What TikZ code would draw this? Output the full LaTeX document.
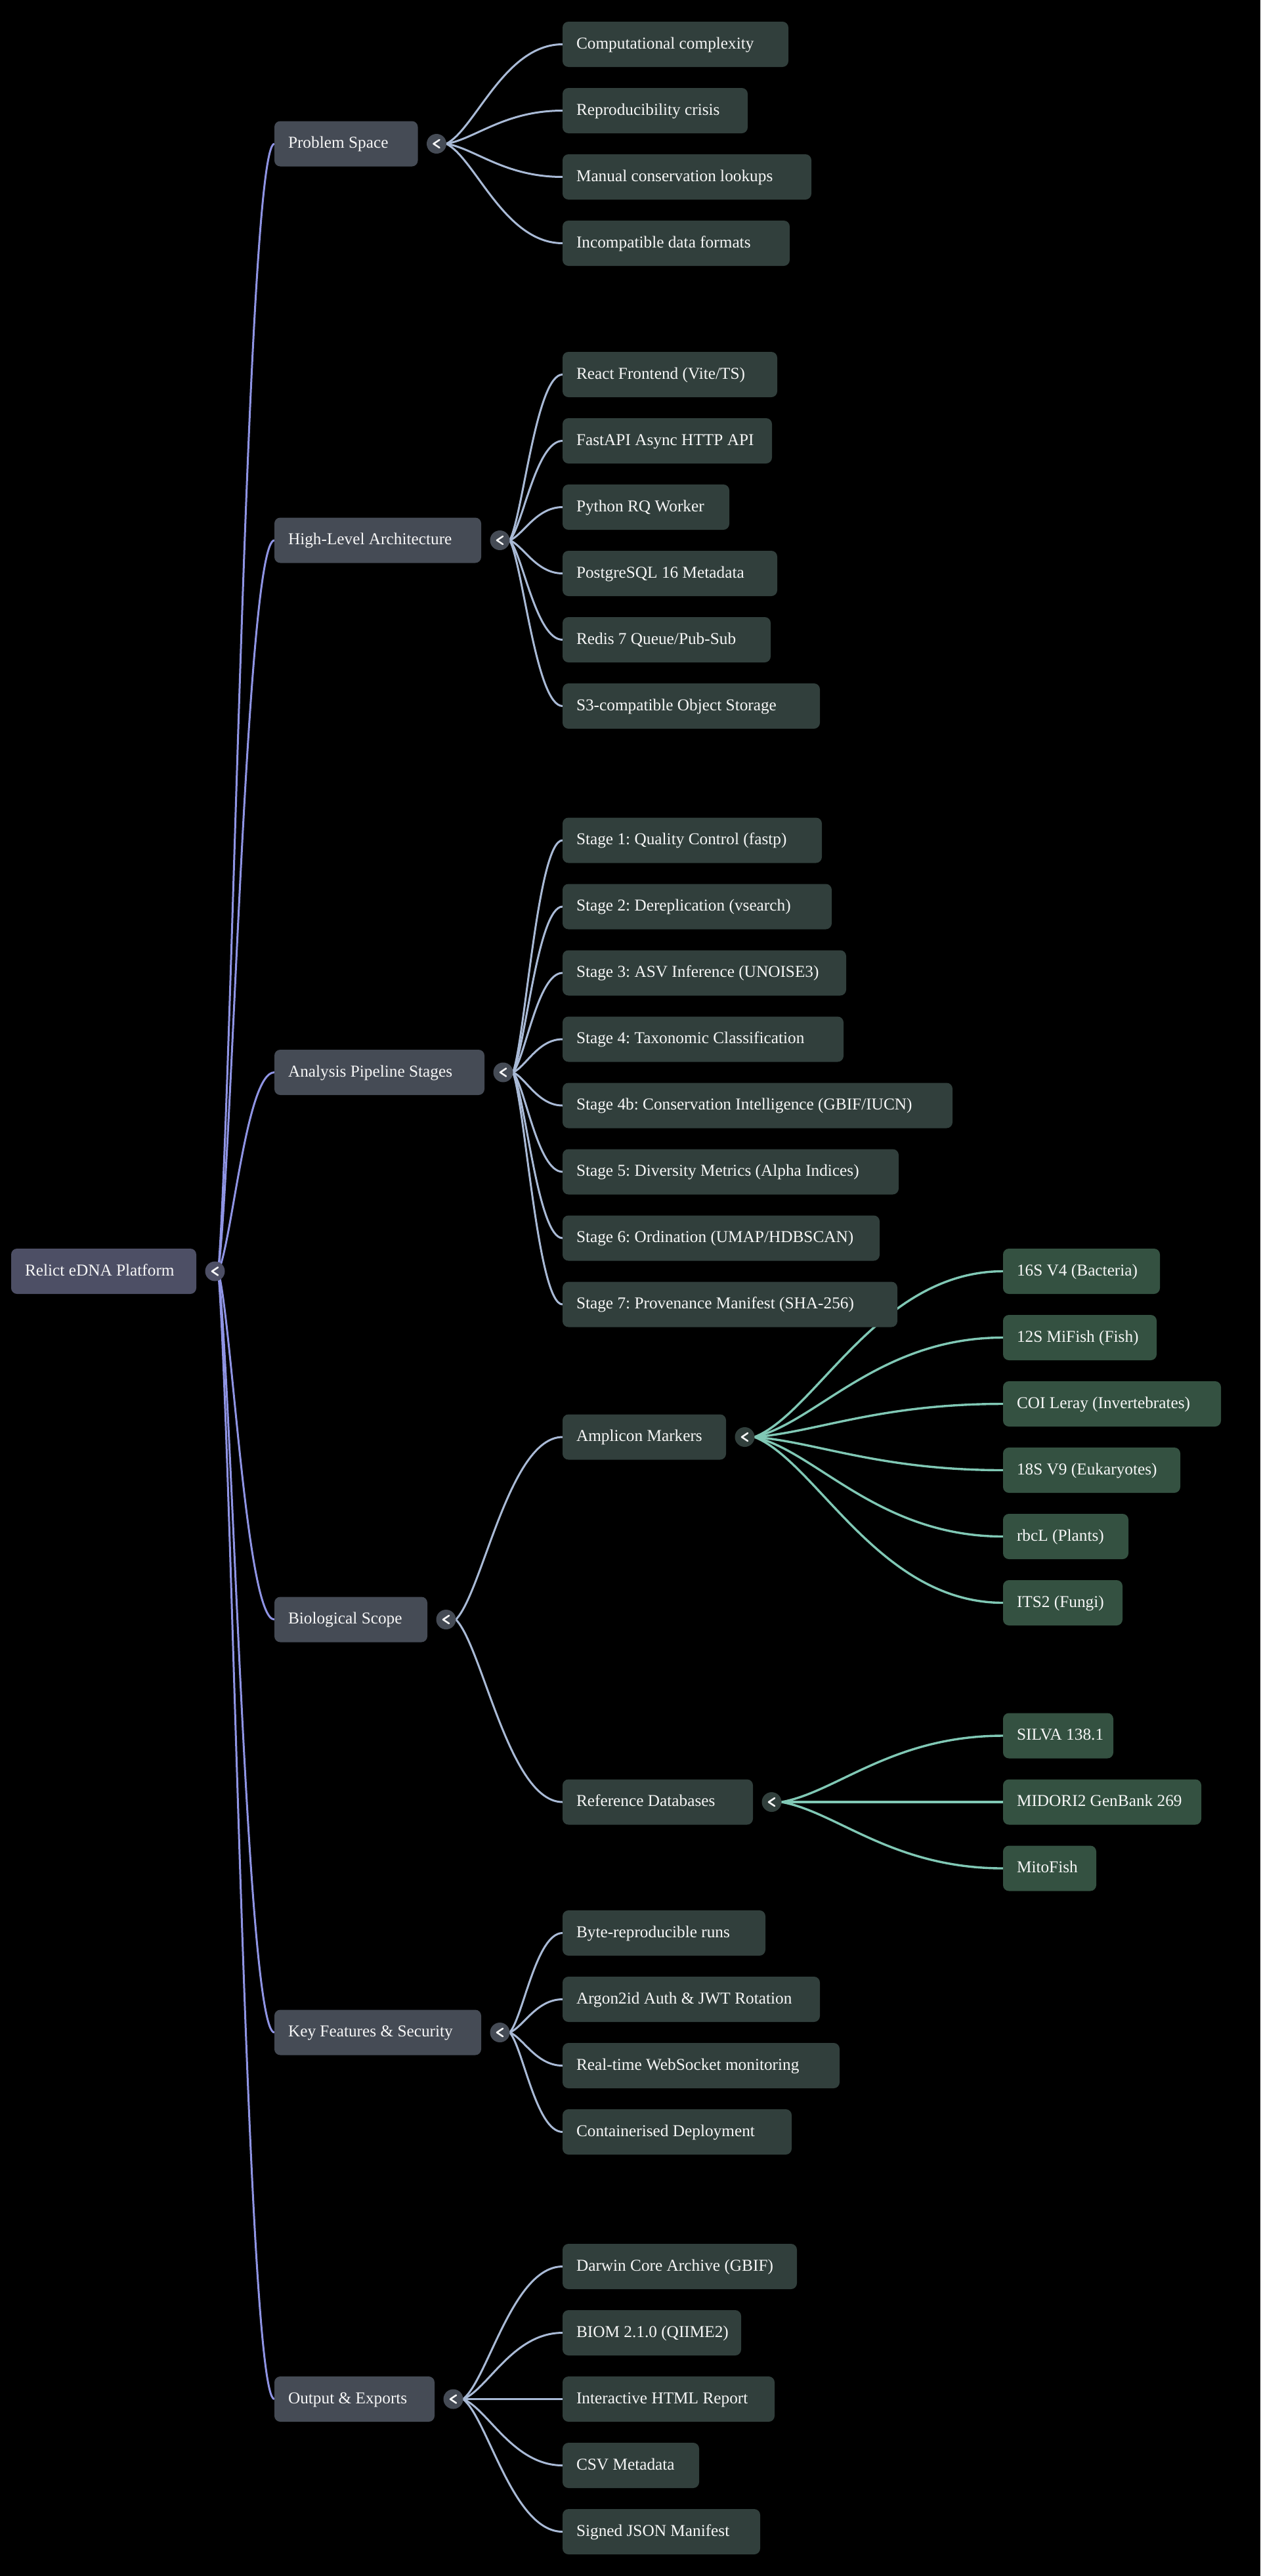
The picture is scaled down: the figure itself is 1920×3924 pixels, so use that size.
\documentclass[tikz,border=0pt]{standalone}
\usepackage{fontspec}
\setmainfont{Liberation Serif}
\usetikzlibrary{calc}
\frenchspacing
\pgfdeclarelayer{bglayer}
\pgfdeclarelayer{edgelayer}
\pgfsetlayers{bglayer,edgelayer,main}
\definecolor{rootfill}{HTML}{4D4F65}
\definecolor{secfill}{HTML}{454B55}
\definecolor{leaffill}{HTML}{313F3C}
\definecolor{deepfill}{HTML}{345141}
\definecolor{rootline}{HTML}{8F94E4}
\definecolor{leafline}{HTML}{A9BAD6}
\definecolor{tealline}{HTML}{80C8B5}
\definecolor{txt}{HTML}{F6F6F6}
% style, name, left x, right x, centre y, text
\newcommand\mmnode[6]{\pgfmathsetmacro\mmtw{#4-#3-42}\node[#1, anchor=west] (#2) at (#3,#5) {\makebox[\mmtw pt][l]{#6}};}
% name, parent node, fill
\newcommand\mmtoggle[3]{\node[tog, fill=#3] (#1) at ($(#2.east)+(28.5,0)$) {};}
% style, from, to
\newcommand\mmlink[3]{\begin{pgfonlayer}{edgelayer}\draw[#1] let \p1=(#2), \p2=(#3) in (\p1) .. controls ({\x1+0.25*(\x2-\x1)},{\y1+0.15*(\y2-\y1)}) and ({\x1+0.5*(\x2-\x1)},{\y2}) .. (\p2);\end{pgfonlayer}}
\tikzset{
  box/.style={rounded corners=9pt, minimum height=69pt, inner xsep=21pt, inner ysep=0pt, outer sep=0pt, text=txt, text height=18pt, text depth=4.5pt},
  rootbox/.style={box, fill=rootfill},
  secbox/.style={box, fill=secfill},
  leafbox/.style={box, fill=leaffill},
  deepbox/.style={box, fill=deepfill},
  tog/.style={circle, minimum size=30pt, inner sep=0pt, outer sep=0pt,
    path picture={\draw[txt, line width=2.6pt, line cap=round, line join=round]
      ([shift={(4.5pt,6pt)}]path picture bounding box.center) --
      ([shift={(-4.5pt,0pt)}]path picture bounding box.center) --
      ([shift={(4.5pt,-6pt)}]path picture bounding box.center);}},
  rootedge/.style={draw=rootline, line width=3pt},
  leafedge/.style={draw=leafline, line width=3pt},
  tealedge/.style={draw=tealline, line width=3.4pt}
}
\begin{document}
\begin{tikzpicture}[x=1pt, y=-1pt, font=\fontsize{25.3}{30}\selectfont]
\begin{pgfonlayer}{bglayer}
\fill[black] (0,0) rectangle (1920,3924);
\end{pgfonlayer}
\useasboundingbox (0,0) rectangle (1920,3924);

% root
\mmnode{rootbox}{R}{17}{299}{1936.5}{Relict eDNA Platform}
\mmtoggle{Rc}{R}{rootfill}

% level 1
\mmnode{secbox}{ps}{418}{636.5}{219}{Problem Space}
\mmnode{secbox}{hla}{418}{733}{823}{High-Level Architecture}
\mmnode{secbox}{aps}{418}{738}{1633.5}{Analysis Pipeline Stages}
\mmnode{secbox}{bs}{418}{651}{2467}{Biological Scope}
\mmnode{secbox}{kf}{418}{733}{3096}{Key Features \& Security}
\mmnode{secbox}{oe}{418}{662}{3654.5}{Output \& Exports}
\mmtoggle{psc}{ps}{secfill}
\mmtoggle{hlac}{hla}{secfill}
\mmtoggle{apsc}{aps}{secfill}
\mmtoggle{bsc}{bs}{secfill}
\mmtoggle{kfc}{kf}{secfill}
\mmtoggle{oec}{oe}{secfill}
\foreach \t in {ps,hla,aps,bs,kf,oe}{\mmlink{rootedge}{$(Rc)+(5,0)$}{\t.west}}

% Problem Space
\mmnode{leafbox}{ps1}{857}{1201}{67.5}{Computational complexity}
\mmnode{leafbox}{ps2}{857}{1139}{168.5}{Reproducibility crisis}
\mmnode{leafbox}{ps3}{857}{1236}{269.5}{Manual conservation lookups}
\mmnode{leafbox}{ps4}{857}{1203}{370.5}{Incompatible data formats}
\foreach \t in {ps1,ps2,ps3,ps4}{\mmlink{leafedge}{psc.east}{\t.west}}

% High-Level Architecture
\mmnode{leafbox}{hla1}{857}{1184}{570.5}{React Frontend (Vite/TS)}
\mmnode{leafbox}{hla2}{857}{1176}{671.5}{FastAPI Async HTTP API}
\mmnode{leafbox}{hla3}{857}{1111}{772.5}{Python RQ Worker}
\mmnode{leafbox}{hla4}{857}{1184}{873.5}{PostgreSQL 16 Metadata}
\mmnode{leafbox}{hla5}{857}{1174}{974.5}{Redis 7 Queue/Pub-Sub}
\mmnode{leafbox}{hla6}{857}{1249}{1075.5}{S3-compatible Object Storage}
\foreach \t in {hla1,hla2,hla3,hla4,hla5,hla6}{\mmlink{leafedge}{hlac.east}{\t.west}}

% Analysis Pipeline Stages
\mmnode{leafbox}{aps1}{857}{1252}{1280}{Stage 1: Quality Control (fastp)}
\mmnode{leafbox}{aps2}{857}{1267}{1381}{Stage 2: Dereplication (vsearch)}
\mmnode{leafbox}{aps3}{857}{1289}{1482}{Stage 3: ASV Inference (UNOISE3)}
\mmnode{leafbox}{aps4}{857}{1285}{1583}{Stage 4: Taxonomic Classification}
\mmnode{leafbox}{aps5}{857}{1451}{1684}{Stage 4b: Conservation Intelligence (GBIF/IUCN)}
\mmnode{leafbox}{aps6}{857}{1369}{1785}{Stage 5: Diversity Metrics (Alpha Indices)}
\mmnode{leafbox}{aps7}{857}{1340}{1886}{Stage 6: Ordination (UMAP/HDBSCAN)}
\mmnode{leafbox}{aps8}{857}{1367}{1987}{Stage 7: Provenance Manifest (SHA-256)}
\foreach \t in {aps1,aps2,aps3,aps4,aps5,aps6,aps7,aps8}{\mmlink{leafedge}{apsc.east}{\t.west}}

% Biological Scope
\mmnode{leafbox}{am}{857}{1106}{2189}{Amplicon Markers}
\mmnode{leafbox}{rd}{857}{1147}{2745}{Reference Databases}
\mmtoggle{amc}{am}{leaffill}
\mmtoggle{rdc}{rd}{leaffill}
\foreach \t in {am,rd}{\mmlink{leafedge}{bsc.east}{\t.west}}

\mmnode{deepbox}{am1}{1528}{1767}{1936.5}{16S V4 (Bacteria)}
\mmnode{deepbox}{am2}{1528}{1762}{2037.5}{12S MiFish (Fish)}
\mmnode{deepbox}{am3}{1528}{1860}{2138.5}{COI Leray (Invertebrates)}
\mmnode{deepbox}{am4}{1528}{1798}{2239.5}{18S V9 (Eukaryotes)}
\mmnode{deepbox}{am5}{1528}{1719}{2340.5}{rbcL (Plants)}
\mmnode{deepbox}{am6}{1528}{1710}{2441.5}{ITS2 (Fungi)}
\foreach \t in {am1,am2,am3,am4,am5,am6}{\mmlink{tealedge}{amc.east}{\t.west}}

\mmnode{deepbox}{rd1}{1528}{1696}{2644}{SILVA 138.1}
\mmnode{deepbox}{rd2}{1528}{1830}{2745}{MIDORI2 GenBank 269}
\mmnode{deepbox}{rd3}{1528}{1670}{2846}{MitoFish}
\foreach \t in {rd1,rd2,rd3}{\mmlink{tealedge}{rdc.east}{\t.west}}

% Key Features & Security
\mmnode{leafbox}{kf1}{857}{1166}{2944.5}{Byte-reproducible runs}
\mmnode{leafbox}{kf2}{857}{1249}{3045.5}{Argon2id Auth \& JWT Rotation}
\mmnode{leafbox}{kf3}{857}{1279}{3146.5}{Real-time WebSocket monitoring}
\mmnode{leafbox}{kf4}{857}{1206}{3247.5}{Containerised Deployment}
\foreach \t in {kf1,kf2,kf3,kf4}{\mmlink{leafedge}{kfc.east}{\t.west}}

% Output & Exports
\mmnode{leafbox}{oe1}{857}{1214}{3452.5}{Darwin Core Archive (GBIF)}
\mmnode{leafbox}{oe2}{857}{1129}{3553.5}{BIOM 2.1.0 (QIIME2)}
\mmnode{leafbox}{oe3}{857}{1180}{3654.5}{Interactive HTML Report}
\mmnode{leafbox}{oe4}{857}{1065}{3755.5}{CSV Metadata}
\mmnode{leafbox}{oe5}{857}{1158}{3856.5}{Signed JSON Manifest}
\foreach \t in {oe1,oe2,oe3,oe4,oe5}{\mmlink{leafedge}{oec.east}{\t.west}}
\end{tikzpicture}
\end{document}
